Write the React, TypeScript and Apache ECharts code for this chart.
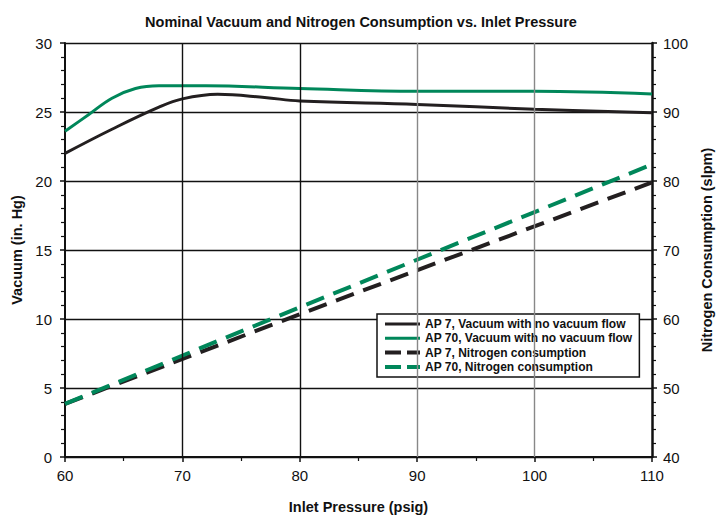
import React, { useEffect, useRef } from "react";
import * as echarts from "echarts";

const FONT = "'Liberation Sans', Arial, sans-serif";
const BLACK = "#231f20";
const GREEN = "#00875a";

const seriesNames = [
  "AP 7, Vacuum with no vacuum flow",
  "AP 70, Vacuum with no vacuum flow",
  "AP 7, Nitrogen consumption",
  "AP 70, Nitrogen consumption",
];

// [inlet pressure psig, vacuum in. Hg]
const ap7Vacuum: [number, number][] = [
  [60, 22.0], [64, 23.75], [68, 25.35], [70, 25.95], [73, 26.28], [77, 26.05],
  [80, 25.8], [90, 25.55], [100, 25.2], [110, 24.95],
];
const ap70Vacuum: [number, number][] = [
  [60, 23.6], [62, 24.8], [64, 26.0], [66, 26.7], [68, 26.9],
  [72, 26.9], [80, 26.7], [90, 26.5], [100, 26.5], [110, 26.3],
];
// [inlet pressure psig, nitrogen slpm]
const ap7Nitrogen: [number, number][] = [[60, 47.7], [80, 60.7], [110, 79.8]];
const ap70Nitrogen: [number, number][] = [[60, 47.7], [80, 61.7], [110, 82.4]];

const blackGridX = [70, 80];
const grayGridX = [90, 100];

const SOLID_ICON = "path://M0,0h35v3h-35z";
const DASH_ICON = "path://M0,0h16v4h-16z M22,0h13v4h-13z";

export default function App() {
  const ref = useRef<HTMLDivElement>(null);
  useEffect(() => {
    if (!ref.current) return;
    const chart = echarts.init(ref.current, null, { renderer: "svg" });
    const tickLabel = { fontFamily: FONT, fontSize: 15, color: "#111" };
    const nameStyle = { fontFamily: FONT, fontSize: 14.5, fontWeight: "bold", color: "#111" };
    chart.setOption({
      animation: false,
      backgroundColor: "#fff",
      title: {
        text: "Nominal Vacuum and Nitrogen Consumption vs. Inlet Pressure",
        left: "center",
        top: 9,
        textStyle: { fontFamily: FONT, fontSize: 14.5, fontWeight: "bold", color: "#111" },
      },
      grid: { left: 65, right: 68, top: 43, bottom: 59 },
      legend: {
        orient: "vertical",
        left: 377,
        top: 314,
        padding: [4, 7, 4, 8],
        itemWidth: 35,
        itemHeight: 12,
        itemGap: 2.3,
        borderColor: "#111",
        borderWidth: 1.5,
        backgroundColor: "#fff",
        textStyle: { fontFamily: FONT, fontSize: 12, fontWeight: "bold", color: "#111" },
        data: [
          { name: seriesNames[0], icon: SOLID_ICON },
          { name: seriesNames[1], icon: SOLID_ICON },
          { name: seriesNames[2], icon: DASH_ICON },
          { name: seriesNames[3], icon: DASH_ICON },
        ],
      },
      xAxis: {
        type: "value",
        min: 60,
        max: 110,
        interval: 10,
        name: "Inlet Pressure (psig)",
        nameLocation: "middle",
        nameGap: 42,
        nameTextStyle: nameStyle,
        axisLine: { show: true, onZero: false, lineStyle: { color: "#111", width: 2 } },
        axisTick: { show: true, length: 5, lineStyle: { color: "#111", width: 1.5 } },
        minorTick: { show: true, splitNumber: 2, length: 4, lineStyle: { color: "#111", width: 1.2 } },
        axisLabel: { ...tickLabel, margin: 11 },
        splitLine: { show: false },
      },
      yAxis: [
        {
          type: "value",
          min: 0,
          max: 30,
          interval: 5,
          name: "Vacuum (in. Hg)",
          nameLocation: "middle",
          nameGap: 40,
          nameTextStyle: nameStyle,
          axisLine: { show: true, lineStyle: { color: "#111", width: 2 } },
          axisTick: { show: true, length: 5, lineStyle: { color: "#111", width: 1.5 } },
          minorTick: { show: true, splitNumber: 5, length: 4, lineStyle: { color: "#111", width: 1.2 } },
          axisLabel: { ...tickLabel, margin: 13 },
          splitLine: { show: true, lineStyle: { color: "#111", width: 1.4 } },
        },
        {
          type: "value",
          min: 40,
          max: 100,
          interval: 10,
          name: "Nitrogen Consumption (slpm)",
          nameLocation: "middle",
          nameGap: 47,
          nameTextStyle: nameStyle,
          axisLine: { show: true, lineStyle: { color: "#111", width: 2.5 } },
          axisTick: { show: true, length: 5, lineStyle: { color: "#111", width: 1.5 } },
          minorTick: { show: true, splitNumber: 5, length: 4, lineStyle: { color: "#111", width: 1.2 } },
          axisLabel: { ...tickLabel, margin: 11 },
          splitLine: { show: false },
        },
      ],
      series: [
        {
          type: "line",
          name: "__grid",
          data: [],
          z: 1,
          silent: true,
          markLine: {
            silent: true,
            symbol: "none",
            label: { show: false },
            animation: false,
            data: [
              ...blackGridX.map((v) => ({ xAxis: v, lineStyle: { color: "#111", width: 1.4, type: "solid" } })),
              ...grayGridX.map((v) => ({ xAxis: v, lineStyle: { color: "#888", width: 1.4, type: "solid" } })),
            ],
          },
        },
        {
          type: "line",
          name: seriesNames[0],
          data: ap7Vacuum,
          yAxisIndex: 0,
          smooth: 0.4,
          showSymbol: false,
          symbol: "none",
          z: 3,
          lineStyle: { color: BLACK, width: 3 },
          itemStyle: { color: BLACK },
        },
        {
          type: "line",
          name: seriesNames[1],
          data: ap70Vacuum,
          yAxisIndex: 0,
          smooth: 0.4,
          showSymbol: false,
          symbol: "none",
          z: 3,
          lineStyle: { color: GREEN, width: 3 },
          itemStyle: { color: GREEN },
        },
        {
          type: "line",
          name: seriesNames[2],
          data: ap7Nitrogen,
          yAxisIndex: 1,
          showSymbol: false,
          symbol: "none",
          z: 3,
          lineStyle: { color: BLACK, width: 4, type: [19, 10] },
          itemStyle: { color: BLACK },
        },
        {
          type: "line",
          name: seriesNames[3],
          data: ap70Nitrogen,
          yAxisIndex: 1,
          showSymbol: false,
          symbol: "none",
          z: 3,
          lineStyle: { color: GREEN, width: 4, type: [19, 10] },
          itemStyle: { color: GREEN },
        },
      ],
    });
    return () => chart.dispose();
  }, []);
  return (
    <div
      ref={ref}
      style={{ position: "fixed", left: 0, top: 0, width: 722, height: 519 }}
    />
  );
}
